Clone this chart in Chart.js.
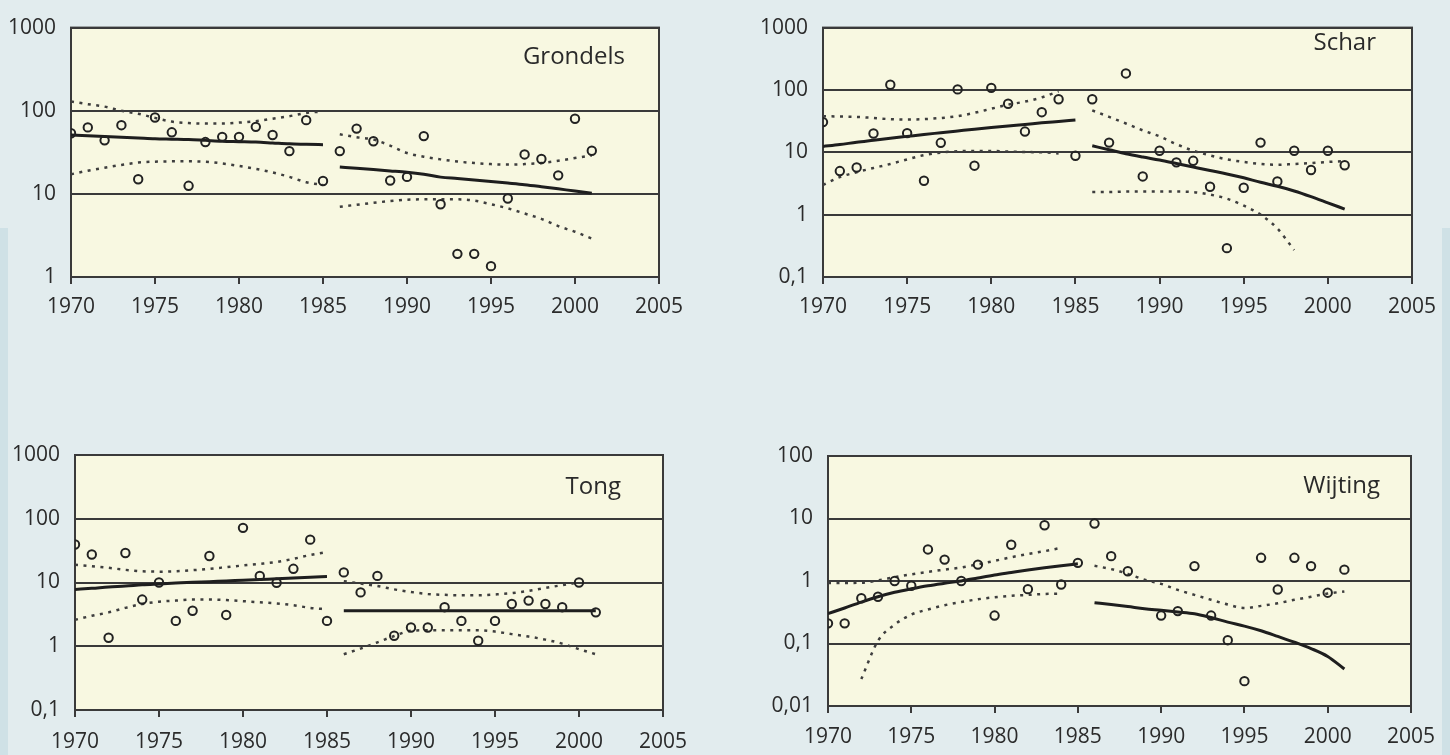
<!DOCTYPE html>
<html>
<head>
<meta charset="utf-8">
<script src="https://cdn.jsdelivr.net/npm/chart.js@4.4.0/dist/chart.umd.min.js"></script>
<style>
  body { margin: 0; width: 1450px; height: 755px; background: #e2ecee; position: relative; overflow: hidden; font-family: "Open Sans", sans-serif; }
  canvas { position: absolute; }
  .naam { position: absolute; font-size: 24px; line-height: 1; color: #2a2a2a; }
  .rand { position: absolute; top: 228px; width: 8px; height: 527px; background: #cfe1e6; }
</style>
</head>
<body>
<div class="rand" style="left:0"></div>
<div class="rand" style="left:1442px"></div>

<canvas id="grondelsChart" width="710" height="335" style="left:0;top:0"></canvas>
<canvas id="scharChart" width="700" height="335" style="left:750px;top:0"></canvas>
<canvas id="tongChart" width="710" height="335" style="left:0;top:420px"></canvas>
<canvas id="wijtingChart" width="700" height="335" style="left:750px;top:420px"></canvas>

<div class="naam" style="right:825px;top:43px">Grondels</div>
<div class="naam" style="right:74px;top:29px">Schar</div>
<div class="naam" style="right:829px;top:473px">Tong</div>
<div class="naam" style="right:70px;top:472px">Wijting</div>

<script>
// jaren
var jaren = [1970,1971,1972,1973,1974,1975,1976,1977,1978,1979,1980,1981,1982,1983,1984,1985,
             1986,1987,1988,1989,1990,1991,1992,1993,1994,1995,1996,1997,1998,1999,2000,2001];
var jarenPeriode1 = [1970,1971,1972,1973,1974,1975,1976,1977,1978,1979,1980,1981,1982,1983,1984,1985];
var jarenPeriode2 = [1986,1987,1988,1989,1990,1991,1992,1993,1994,1995,1996,1997,1998,1999,2000,2001];
var xTicks = [1970,1975,1980,1985,1990,1995,2000,2005];

// Grondels
var grondels = [53.6,63,44,67,15,83,55,12.5,42,48.5,48.5,64,51,32.7,77,14.3,
                32.7,61,43,14.5,16,49.5,7.5,1.9,1.9,1.35,8.8,29.8,26.3,16.7,80,33];
var grondelsTrend1 = [51,50,49,48,47,46,45.5,45,44,43,42.5,42,41,40,39.5,39];
var grondelsBoven1 = [129,120,112,100,92,82,74,71,70,70,72,75,80,86,94,98];
var grondelsOnder1 = [17.2,19,20.6,22.3,23.8,24.4,24.6,24.6,24.4,23.2,21.7,20,18.1,16,13.8,12.8];
var grondelsTrend2 = [21,20.3,19.6,18.9,18.2,17.2,15.9,15.3,14.7,14.1,13.5,12.9,12.2,11.5,10.8,10.2];
var grondelsBoven2 = [52,48,45,38,31,28,26,24.5,23.5,22.8,22.5,22.8,23.5,25,27,29];
var grondelsOnder2 = [7,7.4,7.8,8.2,8.5,8.6,8.6,8.6,8.3,7.5,6.7,5.8,5,4.1,3.5,2.9];
var grondelsTicks = [1,10,100,1000];

// Schar
var schar = [30.5,5.0,5.7,20,121,20.3,3.5,14.2,102,6.1,108,60,21.5,44,71,8.8,
             71,14.3,184,4.1,10.6,6.9,7.3,2.8,0.29,2.7,14.3,3.4,10.6,5.2,10.6,6.2];
var scharTrend1 = [12.4,13.3,14.5,15.6,16.8,18,19.3,20.6,22,23.5,25,26.5,28,29.7,31.3,33];
var scharBoven1 = [38,37.5,37,35.5,34,33.5,34,35.5,38,43,50,58,65,76,95,null];
var scharOnder1 = [3,4,4.8,5.6,6.5,7.7,9,9.9,10.4,10.5,10.5,10.3,10.1,10,9.6,null];
var scharTrend2 = [12.7,11,9.5,8.4,7.5,6.6,5.8,5.1,4.5,3.9,3.3,2.85,2.4,1.95,1.55,1.23];
var scharBoven2 = [47,37,29,22.5,18,13.5,10.6,8.9,7.7,7,6.5,6.3,6.5,6.7,7,7.2];
var scharOnder2 = [2.3,2.3,2.35,2.35,2.35,2.35,2.3,2.1,1.8,1.4,1.0,0.6,0.27,null,null,null];
var scharTicks = [0.1,1,10,100,1000];

// Tong
var tong = [39.5,27.5,1.36,29,5.4,10,2.5,3.6,26,3.1,72,12.7,9.9,16.4,47,2.5,
            14.4,7.0,12.7,1.46,1.97,1.97,4.1,2.5,1.22,2.5,4.6,5.2,4.6,4.1,10,3.4];
var tongTrend1 = [7.8,8.1,8.5,8.8,9.2,9.5,9.8,10.1,10.3,10.6,10.8,11.1,11.5,11.8,12.1,12.4];
var tongBoven1 = [19,18,17,15.8,15,14.8,15,15.6,16.4,17.4,18.5,19.6,21,23.5,27,30];
var tongOnder1 = [2.6,3,3.4,4,4.6,5,5.2,5.4,5.4,5.3,5.1,4.9,4.7,4.4,4.0,3.8];
var tongTrend2 = [3.6,3.6,3.6,3.6,3.6,3.6,3.6,3.6,3.6,3.6,3.6,3.6,3.6,3.6,3.6,3.6];
var tongBoven2 = [10.5,9.6,8.8,7.8,7.1,6.6,6.4,6.3,6.3,6.5,6.8,7.4,8.2,9.1,10,null];
var tongOnder2 = [0.75,0.92,1.15,1.45,1.75,1.78,1.78,1.78,1.78,1.7,1.55,1.42,1.27,1.1,0.9,0.75];
var tongTicks = [0.1,1,10,100,1000];

// Wijting
var wijting = [0.21,0.21,0.53,0.56,1.0,0.84,3.2,2.2,1.0,1.83,0.28,3.8,0.74,7.8,0.88,1.95,
               8.3,2.5,1.43,null,0.28,0.33,1.73,0.28,0.113,0.025,2.35,0.73,2.35,1.73,0.65,1.52];
var wijtingTrend1 = [0.3,0.37,0.46,0.56,0.66,0.75,0.84,0.92,1.0,1.12,1.25,1.37,1.5,1.63,1.76,1.88];
var wijtingBoven1 = [0.93,0.93,0.94,1.02,1.15,1.28,1.4,1.52,1.65,1.85,2.1,2.4,2.7,3.0,3.4,null];
var wijtingOnder1 = [null,null,0.027,0.11,0.2,0.29,0.35,0.41,0.46,0.51,0.55,0.58,0.6,0.62,0.63,null];
var wijtingTrend2 = [0.45,0.42,0.39,0.36,0.34,0.32,0.3,0.26,0.22,0.19,0.16,0.13,0.105,0.083,0.062,0.039];
var wijtingBoven2 = [1.75,1.55,1.3,1.05,0.9,0.72,0.6,0.5,0.42,0.37,0.4,0.44,0.5,0.56,0.63,0.68];
var wijtingTicks = [0.01,0.1,1,10,100];

function punten(xs, ys) {
    var res = [];
    for (var i = 0; i < xs.length; i++) {
        if (ys[i] !== null) res.push({x: xs[i], y: ys[i]});
    }
    return res;
}

function lijn(xs, ys, stippel) {
    return {
        data: punten(xs, ys),
        showLine: true,
        pointRadius: 0,
        borderColor: stippel ? '#3e3e3e' : '#1e1e1e',
        borderWidth: stippel ? 2.5 : 3,
        borderDash: stippel ? [3, 5.5] : [],
        cubicInterpolationMode: 'monotone',
        fill: false
    };
}

// gele achtergrond en kader om het plotvlak
var kader = {
    id: 'kader',
    beforeDraw: function(chart) {
        var a = chart.chartArea, ctx = chart.ctx;
        ctx.save();
        ctx.fillStyle = '#f8f8e1';
        ctx.fillRect(a.left, a.top, a.right - a.left, a.bottom - a.top);
        ctx.restore();
    },
    beforeDatasetsDraw: function(chart) {
        var a = chart.chartArea, ctx = chart.ctx;
        ctx.save();
        ctx.strokeStyle = '#3a3a3a';
        ctx.lineWidth = 2;
        ctx.strokeRect(a.left, a.top, a.right - a.left, a.bottom - a.top);
        ctx.restore();
    }
};

function maakGrafiek(id, p) {
    var ticks = p.ticks;
    new Chart(document.getElementById(id).getContext('2d'), {
        type: 'scatter',
        data: {
            datasets: [
                {
                    data: punten(jaren, p.waarden),
                    pointRadius: 4.2,
                    pointBorderWidth: 2,
                    pointBackgroundColor: 'rgba(0,0,0,0)',
                    pointBorderColor: '#222',
                    showLine: false
                },
                lijn(jarenPeriode1, p.trend1, false),
                lijn(jarenPeriode2, p.trend2, false),
                lijn(jarenPeriode1, p.boven1, true),
                lijn(jarenPeriode1, p.onder1, true),
                lijn(jarenPeriode2, p.boven2, true),
                lijn(jarenPeriode2, p.onder2 || [], true)
            ]
        },
        options: {
            responsive: false,
            animation: false,
            devicePixelRatio: 1,
            layout: { padding: { top: p.top, right: p.right, left: 0, bottom: 0 } },
            plugins: { legend: { display: false }, tooltip: { enabled: false } },
            scales: {
                x: {
                    type: 'linear',
                    min: 1970,
                    max: 2005,
                    afterBuildTicks: function(scale) {
                        scale.ticks = xTicks.map(function(v) { return {value: v}; });
                    },
                    afterFit: function(scale) { scale.height = p.xHoogte; },
                    ticks: {
                        callback: function(v) { return String(v); },
                        font: { family: 'Open Sans', size: 21 },
                        color: '#2b2b2b',
                        padding: p.xPadding,
                        maxRotation: 0
                    },
                    grid: { drawOnChartArea: false, drawTicks: true, tickLength: 7, color: '#3a3a3a', lineWidth: 2 },
                    border: { color: '#3a3a3a', width: 2 }
                },
                y: {
                    type: 'logarithmic',
                    min: ticks[0],
                    max: ticks[ticks.length - 1],
                    afterBuildTicks: function(scale) {
                        scale.ticks = ticks.map(function(v) { return {value: v}; });
                    },
                    afterFit: function(scale) { scale.width = p.yBreedte; },
                    ticks: {
                        callback: function(v) { return String(v).replace('.', ','); },
                        font: { family: 'Open Sans', size: 21 },
                        color: '#2b2b2b',
                        padding: 15
                    },
                    grid: { drawTicks: false, color: '#3a3a3a', lineWidth: 2 },
                    border: { color: '#3a3a3a', width: 2 }
                }
            }
        },
        plugins: [kader]
    });
}

//Grondels
maakGrafiek('grondelsChart', {
    waarden: grondels, ticks: grondelsTicks,
    trend1: grondelsTrend1, boven1: grondelsBoven1, onder1: grondelsOnder1,
    trend2: grondelsTrend2, boven2: grondelsBoven2, onder2: grondelsOnder2,
    top: 22, right: 51, yBreedte: 71, xHoogte: 58, xPadding: 10
});

//Schar
maakGrafiek('scharChart', {
    waarden: schar, ticks: scharTicks,
    trend1: scharTrend1, boven1: scharBoven1, onder1: scharOnder1,
    trend2: scharTrend2, boven2: scharBoven2, onder2: scharOnder2,
    top: 22, right: 38, yBreedte: 73, xHoogte: 58, xPadding: 10
});

//Tong
maakGrafiek('tongChart', {
    waarden: tong, ticks: tongTicks,
    trend1: tongTrend1, boven1: tongBoven1, onder1: tongOnder1,
    trend2: tongTrend2, boven2: tongBoven2, onder2: tongOnder2,
    top: 35, right: 47, yBreedte: 75, xHoogte: 45, xPadding: 12
});

//Wijting
maakGrafiek('wijtingChart', {
    waarden: wijting, ticks: wijtingTicks,
    trend1: wijtingTrend1, boven1: wijtingBoven1, onder1: wijtingOnder1,
    trend2: wijtingTrend2, boven2: wijtingBoven2, onder2: null,
    top: 36, right: 39, yBreedte: 78, xHoogte: 49, xPadding: 11
});
</script>
</body>
</html>
